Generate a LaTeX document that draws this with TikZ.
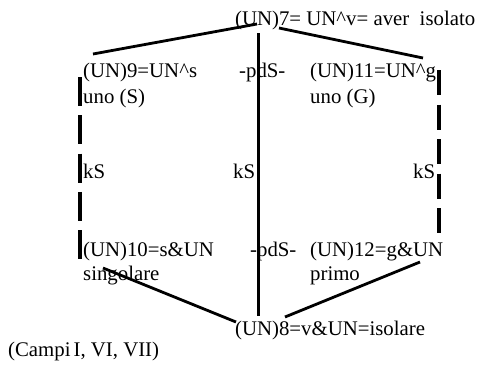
\documentclass[tikz,border=0pt]{standalone}
\usepackage{fontspec}
\setmainfont{Liberation Serif}
\begin{document}
\begin{tikzpicture}[x=1pt,y=-1pt,
  lbl/.style={anchor=base west,inner sep=0pt,font=\fontsize{20.8}{25}\selectfont},
  solidline/.style={line width=2.8pt},
  dashline/.style={line width=3.4pt}]
\useasboundingbox (0,0) rectangle (480,365);
% texts
\node[lbl] (n7) at (235,25) {(UN)7= UN\textasciicircum v= aver\ \ isolato};
\node[lbl] (n9) at (83,77) {(UN)9=UN\textasciicircum s};
\node[lbl] (n9b) at (83,103) {uno (S)};
\node[lbl] (p1) at (239,77) {-pdS-};
\node[lbl] (n11) at (310,77) {(UN)11=UN\textasciicircum g};
\node[lbl] (n11b) at (310,103) {uno (G)};
\node[lbl] (k1) at (83,178) {kS};
\node[lbl] (k2) at (233,178) {kS};
\node[lbl] (k3) at (413,178) {kS};
\node[lbl] (n10) at (83,256) {(UN)10=s\&UN};
\node[lbl] (n10b) at (83,280) {singolare};
\node[lbl] (p2) at (250,256) {-pdS-};
\node[lbl] (n12) at (310,256) {(UN)12=g\&UN};
\node[lbl] (n12b) at (310,280) {primo};
\node[lbl] (n8) at (235,335) {(UN)8=v\&UN=isolare};
\node[lbl] (cap) at (8,356) {(Campi\kern3pt I, VI, VII)};
% connector end points
\coordinate (t1) at (257,24);
\coordinate (t2) at (279,28);
\coordinate (l1) at (93,54);
\coordinate (r1) at (423,58);
\coordinate (v1) at (258.5,33);
\coordinate (v2) at (258.5,316);
\coordinate (d1) at (80,77);
\coordinate (d2) at (80,259);
\coordinate (e1) at (439,70);
\coordinate (e2) at (439,233);
\coordinate (bl) at (103,268);
\coordinate (b1) at (236,322);
\coordinate (br) at (420,262);
\coordinate (b2) at (285,317);
% connectors
\draw[solidline] (t1) -- (l1);
\draw[solidline] (t2) -- (r1);
\draw[solidline,line width=3.2pt] (v1) -- (v2);
\draw[solidline] (bl) -- (b1);
\draw[solidline] (br) -- (b2);
\draw[dashline,dash pattern=on 29pt off 9.25pt] (d1) -- (d2);
\draw[dashline,dash pattern=on 25pt off 9.5pt] (e1) -- (e2);
\end{tikzpicture}
\end{document}
